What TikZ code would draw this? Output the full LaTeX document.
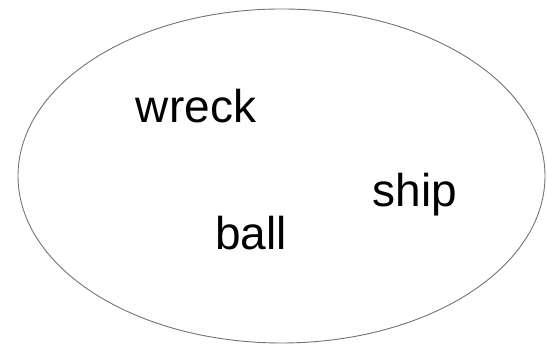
\documentclass[tikz,border=0pt]{standalone}
\usepackage{fontspec}
\setmainfont{Liberation Sans}
\usepackage{tikz}
\usetikzlibrary{shapes.geometric}

\begin{document}
\begin{tikzpicture}[x=1pt, y=1pt, every node/.style={font=\fontsize{46}{50}\selectfont}]
    \useasboundingbox (0,0) rectangle (547,344);

    % Outline
    \node[draw=black!55, line width=0.9pt, ellipse, inner sep=0pt, minimum width=527pt, minimum height=334pt] (set) at (281.5,168) {};

    % Words
    \node[anchor=base, inner sep=0pt] (wreck) at (196,221) {wreck};
    \node[anchor=base, inner sep=0pt] (ship) at (415,137) {ship};
    \node[anchor=base, inner sep=0pt] (ball) at (251,94) {ball};
\end{tikzpicture}
\end{document}
